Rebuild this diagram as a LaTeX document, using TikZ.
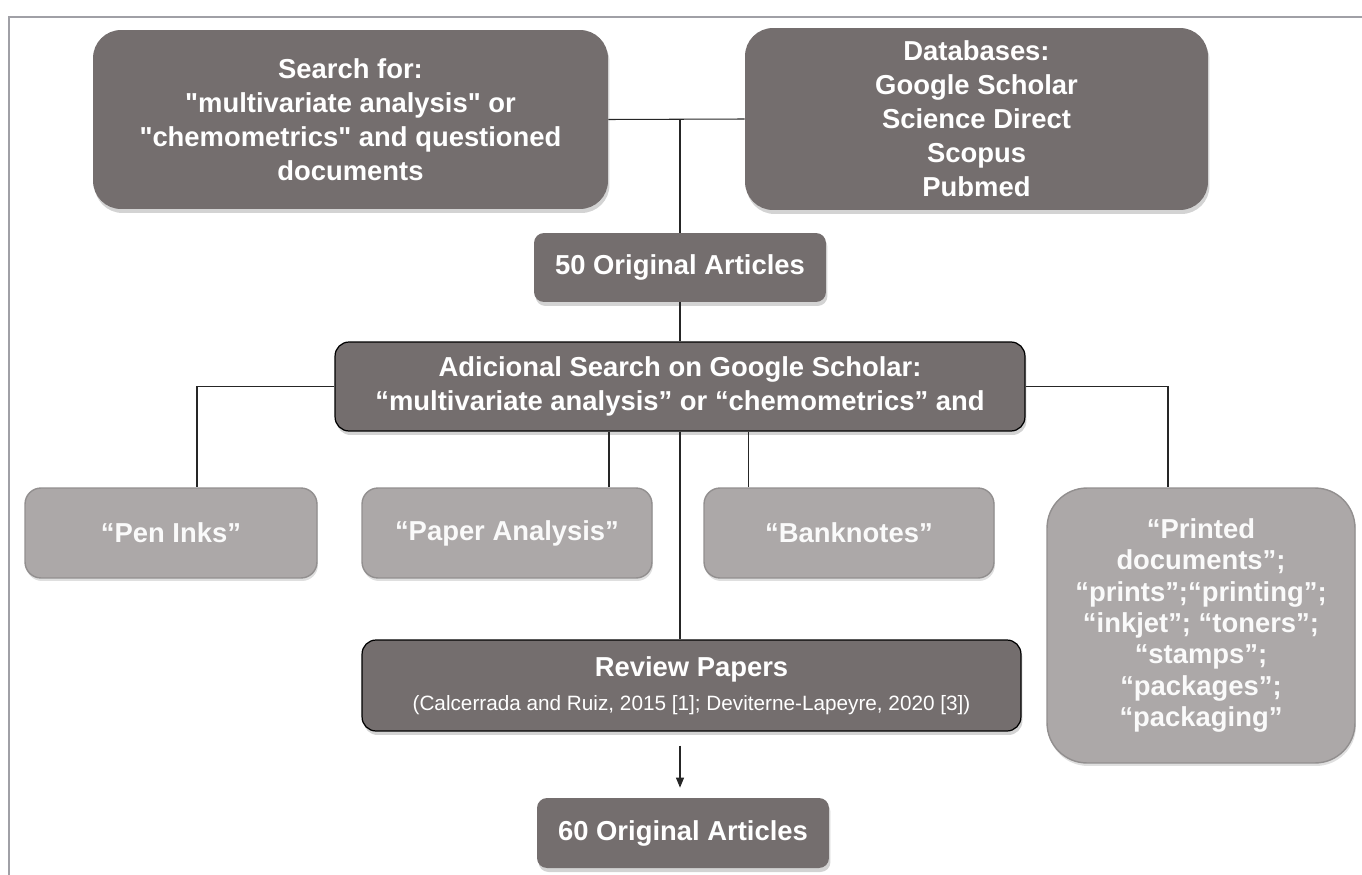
\documentclass[tikz,border=0pt]{standalone}
\usepackage{fontspec}
\setmainfont{Liberation Sans}
\usetikzlibrary{shadows,arrows.meta}
\definecolor{boxdark}{HTML}{746E6E}
\definecolor{boxlight}{HTML}{ACA8A8}
\definecolor{framegray}{HTML}{A0A0A6}

\begin{document}
\begin{tikzpicture}[x=0.02cm, y=-0.02cm,
  every node/.style = {shape=rectangle, align=center, inner sep=0pt},
  darkbox/.style = {fill=boxdark, text=white, font=\bfseries\fontsize{15.6}{19.3}\selectfont,
    rounded corners=0.56cm, drop shadow={opacity=0.35, shadow xshift=0.03cm, shadow yshift=-0.08cm}},
  lightbox/.style = {fill=boxlight, text=white!94!boxlight, font=\bfseries\fontsize{15.6}{17.9}\selectfont,
    draw=boxlight!85!black, line width=0.8pt, rounded corners=0.32cm,
    drop shadow={opacity=0.25, shadow xshift=0.02cm, shadow yshift=-0.06cm}},
  link/.style = {draw=black!85, line width=0.6pt}]
  \useasboundingbox (0,0) rectangle (1362,875);
  % frame
  \draw[framegray, line width=1.7pt] (9,875) -- (9,17) -- (1362,17);

  % search and sources
  \node[darkbox, minimum width=10.3cm, minimum height=3.58cm] (search) at (350.5,119.5)
    {Search for:\\\textquotedbl multivariate analysis\textquotedbl{} or\\\textquotedbl chemometrics\textquotedbl{} and questioned\\documents};
  \node[darkbox, minimum width=9.26cm, minimum height=3.64cm] (dbase) at (976.5,119)
    {Databases:\\Google Scholar\\Science Direct\\Scopus\\Pubmed};
  \node[darkbox, rounded corners=0.2cm, minimum width=5.84cm, minimum height=1.38cm] (art50) at (680,267.5)
    {50 Original Articles};
  \node[darkbox, draw=black, line width=0.7pt, rounded corners=0.28cm, minimum width=13.8cm, minimum height=1.78cm] (extra) at (680,386.5)
    {Adicional Search on Google Scholar:\\“multivariate analysis” or “chemometrics” and};

  % keyword groups
  \node[lightbox, minimum width=5.84cm, minimum height=1.8cm] (pen) at (171,533) {“Pen Inks”};
  \node[lightbox, minimum width=5.8cm, minimum height=1.8cm] (paper) at (507,533) {“Paper Analysis”};
  \node[lightbox, minimum width=5.8cm, minimum height=1.8cm] (bank) at (849,533) {“Banknotes”};
  \node[lightbox, rounded corners=0.8cm, minimum width=6.16cm, minimum height=5.5cm] (printed) at (1201,625.5)
    {“Printed\\documents”;\\“prints”;“printing”;\\“inkjet”; “toners”;\\“stamps”;\\“packages”;\\“packaging”};

  % reviews and result
  \node[darkbox, draw=black, line width=0.7pt, rounded corners=0.28cm, minimum width=13.18cm, minimum height=1.82cm] (review) at (691.5,685.5)
    {Review Papers\\{\mdseries\fontsize{11.8}{14}\selectfont (Calcerrada and Ruiz, 2015 [1]; Deviterne-Lapeyre, 2020 [3])}};
  \node[darkbox, rounded corners=0.2cm, minimum width=5.84cm, minimum height=1.4cm] (art60) at (683,833)
    {60 Original Articles};

  % connectors
  \draw[link] (search.east) -- (dbase.west);
  \draw[link] (art50.north |- search.east) -- (art50.north);
  \draw[link] (art50.south) -- (extra.north);
  \draw[link] (extra.west) -| ([xshift=0.52cm]pen.north);
  \draw[link] (extra.east) -| ([xshift=-0.66cm]printed.north);
  \draw[link] ([xshift=2.04cm]paper.north) -- ([xshift=2.04cm]paper.north |- extra.south);
  \draw[link] ([xshift=-2.02cm]bank.north) -- ([xshift=-2.02cm]bank.north |- extra.south);
  \draw[link] (extra.south) -- (extra.south |- review.north);
  \draw[link, -{Triangle[length=0.2cm, width=0.16cm]}, shorten <=0.28cm, shorten >=0.2cm]
    (extra.south |- review.south) -- (extra.south |- art60.north);
\end{tikzpicture}
\end{document}
